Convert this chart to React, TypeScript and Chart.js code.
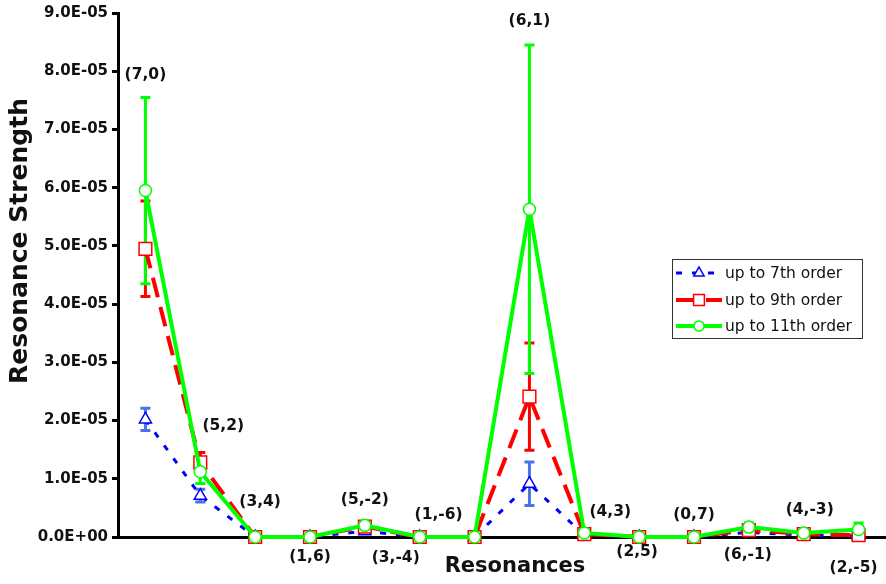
import React, { useEffect, useRef } from 'react';
import { Chart, registerables } from 'chart.js';
import { drawPoint } from 'chart.js/helpers';

Chart.register(...registerables);

const resonances = ['(7,0)', '(5,2)', '(3,4)', '(1,6)', '(5,-2)', '(3,-4)', '(1,-6)', '(6,1)', '(4,3)', '(2,5)', '(0,7)', '(6,-1)', '(4,-3)', '(2,-5)'];

const upTo7th = [2.02e-5, 0.71e-5, 0, 0, 0.1e-5, 0, 0, 0.915e-5, 0.03e-5, 0, 0, 0.08e-5, 0.03e-5, 0.02e-5];
const upTo7thErr = [0.19e-5, 0.11e-5, 0, 0, 0.01e-5, 0, 0, 0.375e-5, 0, 0, 0, 0.01e-5, 0, 0.01e-5];

const upTo9th = [4.95e-5, 1.28e-5, 0, 0, 0.18e-5, 0, 0, 2.41e-5, 0.05e-5, 0, 0, 0.12e-5, 0.05e-5, 0.03e-5];
const upTo9thErr = [0.82e-5, 0.17e-5, 0, 0, 0.02e-5, 0, 0, 0.92e-5, 0.01e-5, 0, 0, 0.03e-5, 0.01e-5, 0.02e-5];

const upTo11th = [5.95e-5, 1.12e-5, 0, 0, 0.2e-5, 0, 0, 5.63e-5, 0.07e-5, 0, 0, 0.17e-5, 0.07e-5, 0.13e-5];
const upTo11thErr = [1.6e-5, 0.2e-5, 0, 0, 0.03e-5, 0, 0, 2.82e-5, 0.02e-5, 0, 0, 0.07e-5, 0.02e-5, 0.11e-5];

const seriesNames = ['up to 7th order', 'up to 9th order', 'up to 11th order'];
const yTicks = [0, 1e-5, 2e-5, 3e-5, 4e-5, 5e-5, 6e-5, 7e-5, 8e-5, 9e-5];

// label placement: pixel shift in x, anchor in value units in y
const labelDx = [0, 23, 5, 0, 0, -24, -36, 0, 26, -2, 0, -1, 6, -5];
const labelAt = [7.94e-5, 1.9e-5, 0.6e-5, -0.34e-5, 0.63e-5, -0.36e-5, 0.37e-5, 8.86e-5, 0.43e-5, -0.26e-5, 0.37e-5, -0.31e-5, 0.46e-5, -0.53e-5];

const FONT = '"DejaVu Sans", sans-serif';

function fmtTick(v: number): string {
  const s = Number(v).toExponential(1);
  const [m, e] = s.split('e');
  const sign = e[0] === '-' ? '-' : '+';
  const digits = e.replace(/^[+-]/, '').padStart(2, '0');
  return `${m}E${sign}${digits}`;
}

const styles = [
  { color: '#0000ff', err: '#4a74e6', width: 3, dash: [6, 10], point: 'triangle', radius: 7 },
  { color: '#ff0000', err: '#ff0000', width: 4, dash: [20, 10], point: 'rect', radius: 9 },
  { color: '#00ff00', err: '#00ff00', width: 4, dash: [] as number[], point: 'circle', radius: 6 },
];

const annotate = {
  id: 'annotate',
  beforeDatasetsDraw(chart: any) {
    const ctx = chart.ctx;
    const xs = chart.scales.x;
    const ys = chart.scales.y;
    const sets = [
      [upTo7th, upTo7thErr, styles[0].err],
      [upTo9th, upTo9thErr, styles[1].err],
      [upTo11th, upTo11thErr, styles[2].err],
    ] as [number[], number[], string][];
    ctx.save();
    for (const [vals, errs, col] of sets) {
      ctx.strokeStyle = col;
      ctx.lineWidth = 3;
      ctx.setLineDash([]);
      vals.forEach((v, i) => {
        const e = errs[i];
        if (!e) return;
        const x = xs.getPixelForValue(i);
        const yt = ys.getPixelForValue(v + e);
        const yb = ys.getPixelForValue(v - e);
        ctx.beginPath();
        ctx.moveTo(x, yt);
        ctx.lineTo(x, yb);
        ctx.moveTo(x - 5, yt);
        ctx.lineTo(x + 5, yt);
        ctx.moveTo(x - 5, yb);
        ctx.lineTo(x + 5, yb);
        ctx.stroke();
      });
    }
    ctx.restore();
  },
  afterDraw(chart: any) {
    const ctx = chart.ctx;
    const xs = chart.scales.x;
    const ys = chart.scales.y;
    ctx.save();
    // category labels
    ctx.fillStyle = '#111';
    ctx.font = `bold 15.5px ${FONT}`;
    ctx.textAlign = 'center';
    ctx.textBaseline = 'middle';
    resonances.forEach((lab, i) => {
      ctx.fillText(lab, xs.getPixelForValue(i) + labelDx[i], ys.getPixelForValue(labelAt[i]));
    });
    // axis titles
    ctx.font = `bold 21px ${FONT}`;
    ctx.fillText('Resonances', 515, 567);
    ctx.save();
    ctx.translate(20, 241);
    ctx.rotate(-Math.PI / 2);
    ctx.font = `bold 25px ${FONT}`;
    ctx.fillText('Resonance Strength', 0, 0);
    ctx.restore();
    // legend
    const bx = 672, by = 259, bw = 190, bh = 79;
    ctx.fillStyle = '#fff';
    ctx.fillRect(bx, by, bw, bh);
    ctx.strokeStyle = '#333';
    ctx.lineWidth = 1;
    ctx.strokeRect(bx + 0.5, by + 0.5, bw, bh);
    const rows = [273, 300, 326];
    rows.forEach((ry, k) => {
      const st = styles[k];
      ctx.save();
      ctx.strokeStyle = st.color;
      ctx.lineWidth = st.width;
      ctx.setLineDash(st.dash);
      ctx.beginPath();
      ctx.moveTo(676, ry);
      ctx.lineTo(722, ry);
      ctx.stroke();
      ctx.setLineDash([]);
      ctx.strokeStyle = st.color;
      ctx.fillStyle = '#fff';
      ctx.lineWidth = 1.5;
      drawPoint(ctx, { pointStyle: st.point, radius: st.radius * 0.85, borderWidth: 1.5, rotation: 0 } as any, 699, ry);
      ctx.restore();
      ctx.fillStyle = '#111';
      ctx.font = `15.5px ${FONT}`;
      ctx.textAlign = 'left';
      ctx.textBaseline = 'middle';
      ctx.fillText(seriesNames[k], 725, ry + 1);
    });
    ctx.restore();
  },
};

export default function App() {
  const ref = useRef<HTMLCanvasElement | null>(null);
  useEffect(() => {
    if (!ref.current) return;
    const mk = (k: number, data: number[], order: number) => ({
      label: seriesNames[k],
      data,
      order,
      borderColor: styles[k].color,
      borderWidth: styles[k].width,
      borderDash: styles[k].dash,
      pointStyle: styles[k].point,
      pointRadius: styles[k].radius,
      pointBackgroundColor: '#ffffff',
      pointBorderColor: styles[k].color,
      pointBorderWidth: 1.5,
      tension: 0,
      fill: false,
      clip: false as any,
    });
    const chart = new Chart(ref.current, {
      type: 'line',
      data: {
        labels: resonances,
        datasets: [mk(2, upTo11th, 0), mk(1, upTo9th, 1), mk(0, upTo7th, 2)],
      },
      plugins: [annotate],
      options: {
        animation: false,
        responsive: false,
        devicePixelRatio: 1,
        events: [],
        layout: { autoPadding: false, padding: { top: 8, right: 0, left: 0, bottom: 0 } },
        plugins: { legend: { display: false }, tooltip: { enabled: false } },
        scales: {
          x: {
            offset: true,
            grid: { display: false },
            ticks: { display: false },
            border: { display: true, color: '#000', width: 3 },
            afterFit: (s: any) => { s.height = 47; },
          },
          y: {
            min: 0,
            max: 9e-5,
            afterBuildTicks: (s: any) => { s.ticks = yTicks.map((v) => ({ value: v })); },
            ticks: {
              color: '#111',
              font: { family: FONT, weight: 'bold', size: 15 },
              padding: 4,
              callback: (v: any) => fmtTick(Number(v)),
            },
            grid: { drawOnChartArea: false, drawTicks: true, tickLength: 6, tickWidth: 3, tickColor: '#000' },
            border: { display: true, color: '#000', width: 3 },
            afterFit: (s: any) => { s.width = 118; },
          },
        },
      },
    });
    return () => chart.destroy();
  }, []);
  return (
    <div style={{ position: 'fixed', left: 0, top: 0, width: 886, height: 584, background: '#fff' }}>
      <canvas ref={ref} width={886} height={584} style={{ width: 886, height: 584, display: 'block' }} />
    </div>
  );
}
